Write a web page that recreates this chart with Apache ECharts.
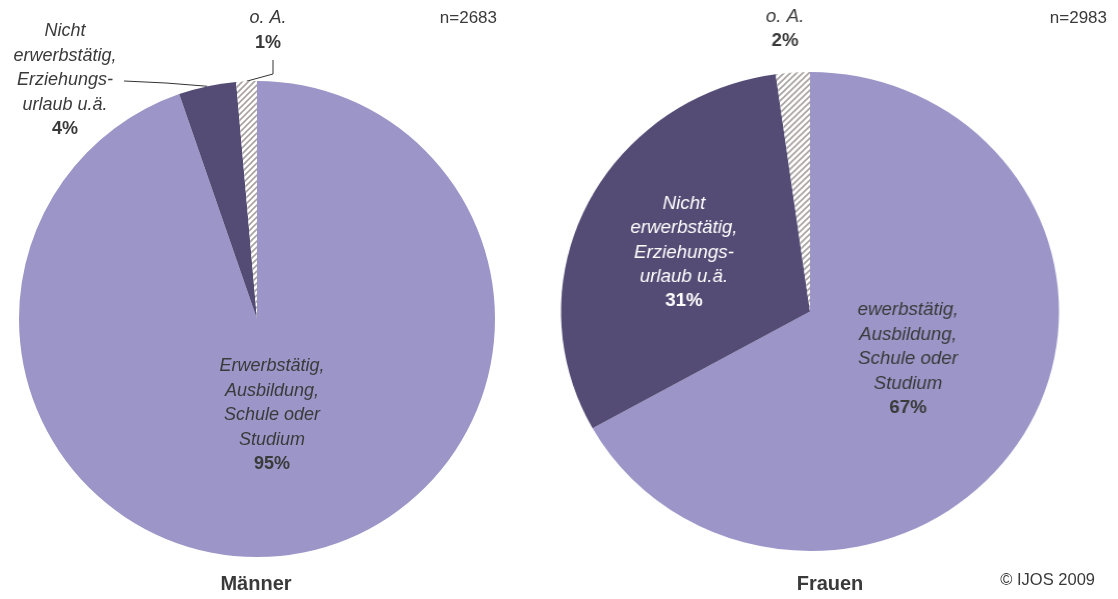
<!DOCTYPE html>
<html><head><meta charset="utf-8">
<script src="https://cdn.jsdelivr.net/npm/echarts@6/dist/echarts.min.js"></script>
<style>
html,body{margin:0;padding:0;background:#fff;}
#wrap{position:relative;width:1118px;height:599px;overflow:hidden;}
#c1,#c2{position:absolute;left:0;top:0;width:1118px;height:599px;}
#c2{transform:scaleX(1.0397);transform-origin:810px 0;}
</style></head><body>
<div id="wrap"><div id="c1"></div><div id="c2"></div></div>
<script>
// ---- data ----
const categoriesMen = ['Erwerbstätig,\nAusbildung,\nSchule oder\nStudium', 'Nicht\nerwerbstätig,\nErziehungs-\nurlaub u.ä.', 'o. A.'];
const valuesMen = [94.7, 3.9, 1.4];
const categoriesWomen = ['ewerbstätig,\nAusbildung,\nSchule oder\nStudium', 'Nicht\nerwerbstätig,\nErziehungs-\nurlaub u.ä.', 'o. A.'];
const valuesWomen = [66.9, 30.9, 2.2];
const panelTitles = ['Männer', 'Frauen'];
const sampleSizes = ['n=2683', 'n=2983'];
const sourceNote = '© IJOS 2009';

// ---- styling / layout ----
const FONT = '"Liberation Sans", Arial, sans-serif';
const TXT = '#3a3a3a';
const sliceColors = ['#9b95c8', '#544c75'];
const SX = 1.0397; // right pie horizontal stretch
const menLabelPos = [[272, 415], [65, 80], [268, 30.5]];
const womenLabelPos = [[810 + (908 - 810) / SX, 359], [810 + (684 - 810) / SX, 252.5], [810 + (785 - 810) / SX, 29]];

function hatchCanvas() {
  const s = 6;
  const c = document.createElement('canvas');
  c.width = s; c.height = s;
  const g = c.getContext('2d');
  g.fillStyle = '#ffffff'; g.fillRect(0, 0, s, s);
  g.strokeStyle = '#aaa1a1'; g.lineWidth = 1.6;
  g.beginPath();
  g.moveTo(-1, s + 1); g.lineTo(s + 1, -1);
  g.moveTo(-1, 1); g.lineTo(1, -1);
  g.moveTo(s - 1, s + 1); g.lineTo(s + 1, s - 1);
  g.stroke();
  return c;
}
const hatch = { image: hatchCanvas(), repeat: 'repeat' };

const rich = {
  i: { fontStyle: 'italic', fontSize: 18, lineHeight: 24.5, fontFamily: FONT },
  b: { fontWeight: 'bold', fontSize: 18, lineHeight: 24.5, fontFamily: FONT }
};
function fmt(p) {
  return p.name.split('\n').map(l => '{i|' + l + '}').join('\n') + '\n{b|' + Math.round(p.percent) + '%}';
}
function buildData(cats, vals, darkInside) {
  return cats.map((n, i) => ({
    name: n, value: vals[i],
    itemStyle: { color: i < 2 ? sliceColors[i] : hatch },
    label: {
      position: i === 0 || (i === 1 && darkInside) ? 'inside' : 'outside',
      color: (i === 1 && darkInside) ? '#ffffff' : TXT
    },
    labelLine: { show: !darkInside && i > 0, lineStyle: { color: '#333', width: 1 } }
  }));
}

const baseSeries = {
  type: 'pie', startAngle: 90, clockwise: true, avoidLabelOverlap: false,
  label: { show: true, formatter: fmt, rich: rich, fontFamily: FONT },
  emphasis: { disabled: true }, silent: true
};

const c1 = echarts.init(document.getElementById('c1'), null, { renderer: 'canvas' });
c1.setOption({
  animation: false,
  series: [Object.assign({}, baseSeries, {
    center: [257, 319], radius: 238,
    data: buildData(categoriesMen, valuesMen, false),
    labelLayout: function (p) {
      const L = menLabelPos[p.dataIndex];
      const r = { x: L[0], y: L[1], align: 'center', verticalAlign: 'middle' };
      const e = p.labelLinePoints ? p.labelLinePoints[0] : null;
      if (p.dataIndex === 1 && e) r.labelLinePoints = [e, [166, 83], [124, 81]];
      if (p.dataIndex === 2 && e) r.labelLinePoints = [e, [273, 74], [273, 60]];
      return r;
    }
  })],
  graphic: [
    { type: 'text', x: 256, y: 584, style: { text: panelTitles[0], font: 'bold 20px ' + FONT, fill: TXT, align: 'center', verticalAlign: 'middle' } },
    { type: 'text', x: 830, y: 584, style: { text: panelTitles[1], font: 'bold 20px ' + FONT, fill: TXT, align: 'center', verticalAlign: 'middle' } },
    { type: 'text', x: 497, y: 18, style: { text: sampleSizes[0], font: '17px ' + FONT, fill: TXT, align: 'right', verticalAlign: 'middle' } },
    { type: 'text', x: 1107, y: 18, style: { text: sampleSizes[1], font: '17px ' + FONT, fill: TXT, align: 'right', verticalAlign: 'middle' } },
    { type: 'text', x: 1095, y: 580, style: { text: sourceNote, font: '16.5px ' + FONT, fill: TXT, align: 'right', verticalAlign: 'middle' } }
  ]
});

const c2 = echarts.init(document.getElementById('c2'), null, { renderer: 'canvas' });
c2.setOption({
  animation: false,
  series: [Object.assign({}, baseSeries, {
    center: [810, 311.5], radius: 239.5,
    data: buildData(categoriesWomen, valuesWomen, true),
    labelLayout: function (p) {
      const L = womenLabelPos[p.dataIndex];
      return { x: L[0], y: L[1], align: 'center', verticalAlign: 'middle' };
    }
  })]
});
</script>
</body></html>
